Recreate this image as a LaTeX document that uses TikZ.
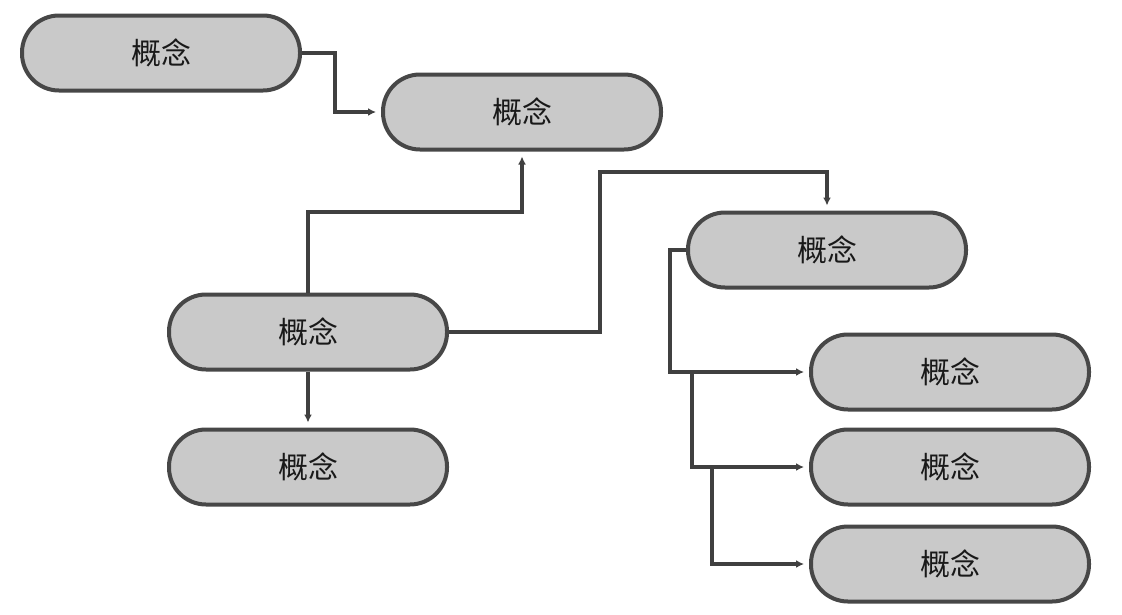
\documentclass[tikz,border=0pt]{standalone}
\usepackage{fontspec}
\newfontfamily\cjk{Noto Sans CJK SC}
\usetikzlibrary{arrows.meta}
\definecolor{boxfill}{HTML}{C9C9C9}
\definecolor{boxline}{HTML}{474747}
\definecolor{connline}{HTML}{404040}
\tikzset{
  concept/.style={draw=boxline, line width=4pt, fill=boxfill, rounded corners=37pt,
    minimum width=278pt, minimum height=75pt, inner sep=0pt,
    font=\cjk\fontsize{30}{35}\selectfont, text=black!90},
  conn/.style={draw=connline, line width=3.5pt},
  arr/.style={conn, -{Latex[length=8pt,width=8pt]}, shorten >=5pt}
}
\begin{document}
\begin{tikzpicture}[x=1pt,y=-1pt]
\useasboundingbox[fill=white] (0,0) rectangle (1122,614);
\node[concept] (n1) at (161,53) {概念};
\node[concept] (n2) at (522,112) {概念};
\node[concept] (n3) at (827,250) {概念};
\node[concept] (n4) at (308,332) {概念};
\node[concept] (n5) at (308,467) {概念};
\node[concept] (n6) at (950,372) {概念};
\node[concept] (n7) at (950,467) {概念};
\node[concept] (n8) at (950,564) {概念};
\coordinate (k1) at (335,53);
\coordinate (k2) at (522,212);
\coordinate (k3) at (600,172);
\coordinate (k4) at (670,250);
\coordinate (k5) at (692,372);
\coordinate (k6) at (712,467);
\draw[arr] (n1.east) -- (k1) |- (n2.west);
\draw[arr] (n4.north) |- (k2) -- (n2.south);
\draw[arr] (n4.east) -| (k3) -| (n3.north);
\draw[arr] (n4.south) -- (n5.north);
\draw[arr] (n3.west) -- (k4) |- (n6.west);
\draw[arr] (k5) |- (n7.west);
\draw[arr] (k6) |- (n8.west);
\end{tikzpicture}
\end{document}
